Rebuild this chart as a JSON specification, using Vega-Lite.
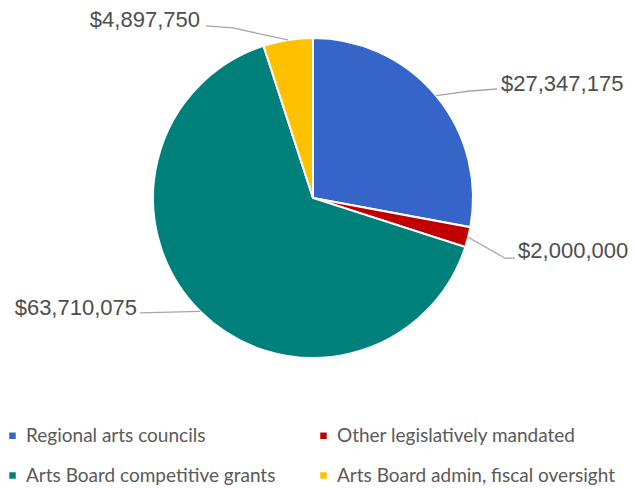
{
  "$schema": "https://vega.github.io/schema/vega-lite/v6.json",
  "width": 626,
  "height": 396,
  "autosize": {"type": "none"},
  "padding": {"left": 0, "top": 0, "right": 8, "bottom": 93},
  "background": "white",
  "config": {"view": {"stroke": null}},
  "data": {
    "values": [
      {"category": "Regional arts councils", "value": 27347175},
      {"category": "Other legislatively mandated", "value": 2000000},
      {"category": "Arts Board competitive grants", "value": 63710075},
      {"category": "Arts Board admin, fiscal oversight", "value": 4897750}
    ]
  },
  "layer": [
    {
      "mark": {"type": "arc", "outerRadius": 160, "stroke": "white", "strokeWidth": 2},
      "encoding": {
        "theta": {"field": "value", "type": "quantitative", "stack": true},
        "order": {"field": "category", "sort": "descending"},
        "color": {
          "field": "category",
          "type": "nominal",
          "scale": {
            "domain": ["Regional arts councils", "Other legislatively mandated", "Arts Board competitive grants", "Arts Board admin, fiscal oversight"],
            "range": ["#3565C9", "#C00000", "#00807A", "#FFC000"]
          },
          "legend": {
            "orient": "none",
            "direction": "horizontal",
            "legendX": 3,
            "legendY": 426,
            "columns": 2,
            "title": null,
            "symbolType": "square",
            "symbolSize": 42,
            "symbolStrokeWidth": 0,
            "labelFont": "Lato",
            "labelFontSize": 19,
            "labelColor": "#595959",
            "labelOffset": 4,
            "labelLimit": 500,
            "columnPadding": 38,
            "rowPadding": 20,
            "padding": 0
          }
        }
      }
    },
    {
      "transform": [
        {"stack": "value", "groupby": [], "sort": [{"field": "category", "order": "descending"}], "as": ["v0", "v1"]}
      ],
      "mark": {
        "type": "point",
        "filled": false,
        "size": 10000,
        "strokeWidth": 1.3,
        "opacity": 1,
        "color": "#A6A6A6",
        "shape": {"expr": "datum.category === 'Regional arts councils' ? 'M0,0L0.68,-0.094L1.22,-0.134' : datum.category === 'Other legislatively mandated' ? 'M0,0L0.74,0.42L0.94,0.42' : datum.category === 'Arts Board competitive grants' ? 'M0,0L-1.2,0.03' : 'M0,0L-1.1,-0.24L-1.64,-0.28'"},
        "x": {"expr": "width / 2 + 160 * sin(scale('theta', (datum.v0 + datum.v1) / 2))"},
        "y": {"expr": "height / 2 - 160 * cos(scale('theta', (datum.v0 + datum.v1) / 2))"}
      },
      "encoding": {}
    },
    {
      "mark": {
        "type": "text",
        "radius": 160,
        "font": "Liberation Sans",
        "fontSize": 22,
        "baseline": "alphabetic",
        "align": {"expr": "indexof(['Regional arts councils','Other legislatively mandated'], datum.category) >= 0 ? 'left' : 'right'"},
        "dx": {"expr": "datum.category === 'Regional arts councils' ? 65 : datum.category === 'Other legislatively mandated' ? 50 : datum.category === 'Arts Board competitive grants' ? -63 : -88"},
        "dy": {"expr": "datum.category === 'Regional arts councils' ? -5 : datum.category === 'Other legislatively mandated' ? 21 : datum.category === 'Arts Board competitive grants' ? 4 : -13"}
      },
      "encoding": {
        "theta": {"field": "value", "type": "quantitative", "stack": true, "bandPosition": 0.5},
        "order": {"field": "category", "sort": "descending"},
        "detail": {"field": "category"},
        "color": {"value": "#4D4D4D"},
        "text": {"field": "value", "type": "quantitative", "format": "$,.0f"}
      }
    }
  ]
}
